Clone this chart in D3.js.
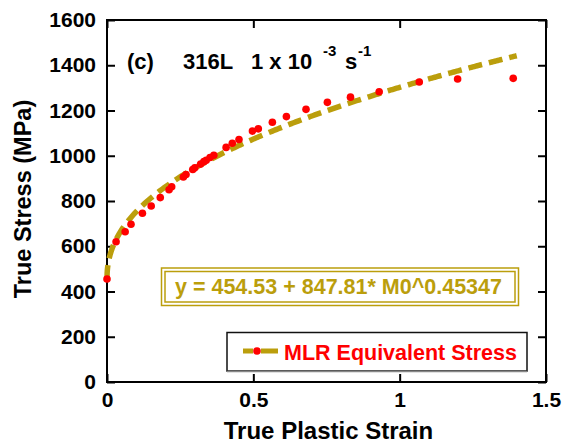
<!DOCTYPE html>
<html>
<head>
<meta charset="utf-8">
<script src="https://cdn.jsdelivr.net/npm/d3@7"></script>
<style>
  html, body { margin: 0; padding: 0; background: #fff; }
  svg { display: block; }
  text { font-family: "Liberation Sans", Arial, sans-serif; font-weight: bold; }
</style>
</head>
<body>
<svg id="chart" width="564" height="445"></svg>
<script>
// Measured true plastic strain / MLR equivalent stress (MPa)
const strain = [0, 0.031, 0.062, 0.082, 0.121, 0.151, 0.182, 0.212, 0.221, 0.261,
  0.270, 0.293, 0.300, 0.320, 0.331, 0.339, 0.352, 0.365, 0.407, 0.428,
  0.451, 0.497, 0.517, 0.565, 0.613, 0.680, 0.753, 0.832, 0.930, 1.067,
  1.198, 1.388];
const stress = [455, 620, 664, 697, 746, 778, 815, 850, 863, 906,
  917, 939, 947, 963, 974, 980, 992, 1002, 1037, 1055,
  1072, 1109, 1119, 1148, 1173, 1205, 1236, 1259, 1283, 1326,
  1339, 1342];

// Power-law fit  y = a + b * x^n
const fitA = 454.53;
const fitB = 847.81;
const fitN = 0.45347;
const fitMaxStrain = 1.4;

const xTicks = [0, 0.5, 1, 1.5];
const xTickLabels = ["0", "0.5", "1", "1.5"];
const yTicks = [0, 200, 400, 600, 800, 1000, 1200, 1400, 1600];

const gold = "#bb9e0c";
const red = "#ff0000";

const svg = d3.select("#chart");
const plotL = 107, plotR = 546, plotT = 20, plotB = 382;

const x = d3.scaleLinear().domain([0, 1.5]).range([plotL, plotR]);
const y = d3.scaleLinear().domain([0, 1600]).range([plotB, plotT]);

const tickLen = 8;

// Axes: ticks pointing inward on all four sides
const axB = d3.axisBottom(x).tickValues(xTicks).tickSize(0).tickFormat((d, i) => xTickLabels[i]).tickPadding(10);
const axT = d3.axisTop(x).tickValues(xTicks).tickSize(-tickLen).tickFormat("");
const axL = d3.axisLeft(y).tickValues(yTicks).tickSize(-tickLen).tickFormat(d3.format("d")).tickPadding(11);
const axR = d3.axisRight(y).tickValues(yTicks).tickSize(-tickLen).tickFormat("");
const axBt = d3.axisBottom(x).tickValues(xTicks).tickSize(-tickLen).tickFormat("");

function styleAxis(g) {
  g.select(".domain").remove();
  g.selectAll(".tick line").attr("stroke", "#000").attr("stroke-width", 2);
  g.selectAll(".tick text").attr("fill", "#000").style("font-size", "21px")
    .style("font-family", "'Liberation Sans', Arial, sans-serif").style("font-weight", "bold");
}

svg.append("g").attr("transform", `translate(0,${plotB})`).call(axB).call(styleAxis);
svg.append("g").attr("transform", `translate(0,${plotB})`).call(axBt).call(styleAxis);
svg.append("g").attr("transform", `translate(0,${plotT})`).call(axT).call(styleAxis);
svg.append("g").attr("transform", `translate(${plotL},0)`).call(axL).call(styleAxis);
svg.append("g").attr("transform", `translate(${plotR},0)`).call(axR).call(styleAxis);

// Plot frame
svg.append("rect")
  .attr("x", plotL).attr("y", plotT)
  .attr("width", plotR - plotL).attr("height", plotB - plotT)
  .attr("fill", "none").attr("stroke", "#000").attr("stroke-width", 2);

// Axis titles
svg.append("text")
  .attr("x", (plotL + plotR) / 2 + 2).attr("y", 439)
  .attr("text-anchor", "middle").style("font-size", "24px")
  .text("True Plastic Strain");

svg.append("text")
  .attr("transform", `translate(31,${(plotT + plotB) / 2 - 2}) rotate(-90)`)
  .attr("text-anchor", "middle").style("font-size", "23.5px")
  .text("True Stress (MPa)");

// Fitted curve
const fitX = d3.range(0, 0.02, 0.0005).concat(d3.range(0.02, fitMaxStrain + 1e-9, 0.005));
const fitPts = fitX.map(s => [s, fitA + fitB * Math.pow(s, fitN)]);
svg.append("path")
  .datum(fitPts)
  .attr("d", d3.line().x(d => x(d[0])).y(d => y(d[1])))
  .attr("fill", "none").attr("stroke", gold).attr("stroke-width", 5.5)
  .attr("stroke-dasharray", "14,7");

// Measured points
svg.append("g").selectAll("circle")
  .data(strain.map((s, i) => [s, stress[i]]))
  .join("circle")
  .attr("cx", d => x(d[0])).attr("cy", d => y(d[1]))
  .attr("r", 3.8).attr("fill", red);

// Panel title
const title = svg.append("text").attr("y", 69).style("font-size", "22px").attr("fill", "#000");
title.append("tspan").attr("x", 127).text("(c)");
title.append("tspan").attr("x", 183).text("316L");
title.append("tspan").attr("x", 251).text("1 x 10");
title.append("tspan").attr("x", 323).attr("y", 56).style("font-size", "15px").text("-3");
title.append("tspan").attr("x", 345).attr("y", 69).text("s");
title.append("tspan").attr("x", 358).attr("y", 56).style("font-size", "15px").text("-1");

// Equation box (double border)
const eq = svg.append("g");
eq.append("rect").attr("x", 161.5).attr("y", 268).attr("width", 357).attr("height", 37.5)
  .attr("fill", "#fff").attr("stroke", gold).attr("stroke-width", 1.5);
eq.append("rect").attr("x", 165).attr("y", 271.5).attr("width", 350).attr("height", 30.5)
  .attr("fill", "none").attr("stroke", gold).attr("stroke-width", 1.5);
eq.append("text").attr("x", 175).attr("y", 294).attr("fill", gold).style("font-size", "21.5px")
  .text(`y = ${fitA} + ${fitB}* M0^${fitN}`);

// Legend
const lg = svg.append("g");
lg.append("rect").attr("x", 227).attr("y", 332.5).attr("width", 300).attr("height", 38.5)
  .attr("fill", "#fff").attr("stroke", "#111").attr("stroke-width", 1.5);
lg.append("line").attr("x1", 227).attr("x2", 527).attr("y1", 371.5).attr("y2", 371.5)
  .attr("stroke", "#888").attr("stroke-width", 1.5);
lg.append("line").attr("x1", 243).attr("x2", 253).attr("y1", 351).attr("y2", 351)
  .attr("stroke", gold).attr("stroke-width", 5);
lg.append("line").attr("x1", 261).attr("x2", 278).attr("y1", 351).attr("y2", 351)
  .attr("stroke", gold).attr("stroke-width", 5);
lg.append("circle").attr("cx", 257).attr("cy", 351).attr("r", 3.8).attr("fill", red);
lg.append("text").attr("x", 284).attr("y", 359.5).attr("fill", red).style("font-size", "21.5px")
  .text("MLR Equivalent Stress");
</script>
</body>
</html>
